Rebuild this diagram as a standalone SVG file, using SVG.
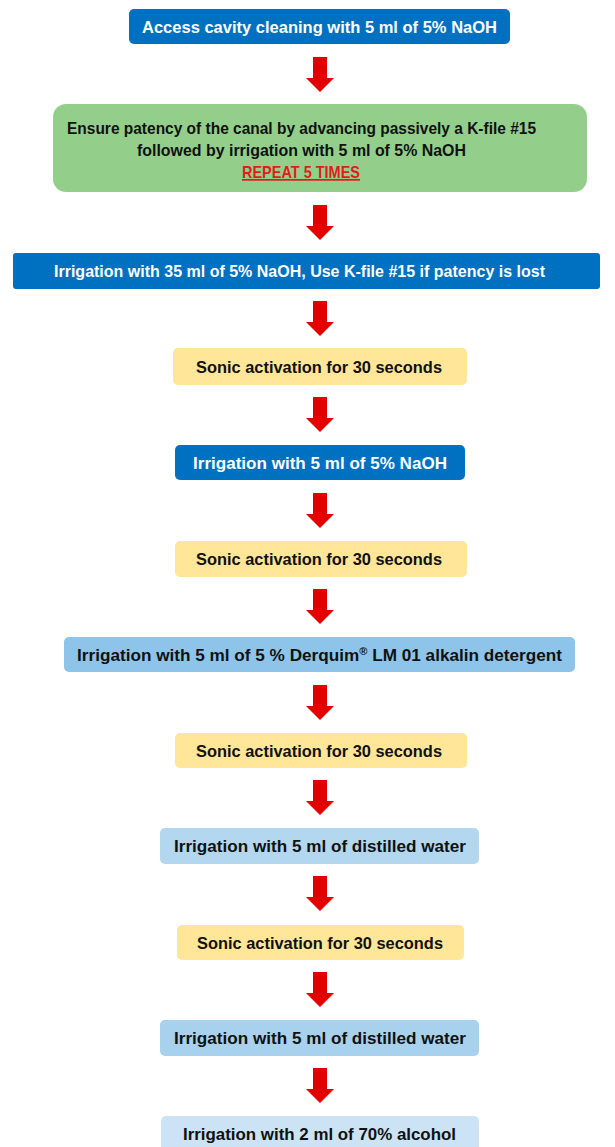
<svg xmlns="http://www.w3.org/2000/svg" width="615" height="1147" viewBox="0 0 615 1147">
<style>
.t{font-family:"Liberation Sans",Arial,sans-serif;font-weight:bold;font-size:17px;text-anchor:middle}
.w{fill:#ffffff}
.k{fill:#111111}
.dk{fill:#0070C0}
.yl{fill:#FFE699}
.arr{fill:#E00000}
</style>
<defs>
<path id="arrow" d="M-7,0 H7 V21 H14 L0,35 L-14,21 H-7 Z"/>
</defs>
<rect width="615" height="1147" fill="#ffffff"/>
<g id="connectors" class="arr">
<use href="#arrow" x="320" y="57"/>
<use href="#arrow" x="320" y="205"/>
<use href="#arrow" x="320" y="301"/>
<use href="#arrow" x="320" y="397"/>
<use href="#arrow" x="320" y="493"/>
<use href="#arrow" x="320" y="589"/>
<use href="#arrow" x="320" y="685"/>
<use href="#arrow" x="320" y="780"/>
<use href="#arrow" x="320" y="876"/>
<use href="#arrow" x="320" y="972"/>
<use href="#arrow" x="320" y="1068"/>
</g>
<g id="n1">
<rect class="dk" x="129" y="9" width="381" height="35" rx="5"/>
<text class="t w" x="319.5" y="33" textLength="355" lengthAdjust="spacingAndGlyphs">Access cavity cleaning with 5 ml of 5% NaOH</text>
</g>
<g id="n2">
<rect x="53" y="104" width="534" height="88" rx="13" fill="#93CF8B"/>
<text class="t k" x="301.5" y="134" textLength="469" lengthAdjust="spacingAndGlyphs">Ensure patency of the canal by advancing passively a K-file #15</text>
<text class="t k" x="301.5" y="156" textLength="329" lengthAdjust="spacingAndGlyphs">followed by irrigation with 5 ml of 5% NaOH</text>
<text class="t" x="301" y="178" fill="#E31B1B" text-decoration="underline" textLength="118" lengthAdjust="spacingAndGlyphs">REPEAT 5 TIMES</text>
</g>
<g id="n3">
<rect class="dk" x="13" y="253" width="587" height="36" rx="3"/>
<text class="t w" x="299.5" y="277" textLength="491" lengthAdjust="spacingAndGlyphs">Irrigation with 35 ml of 5% NaOH, Use K-file #15 if patency is lost</text>
</g>
<g id="n4">
<rect class="yl" x="173" y="348" width="294" height="37" rx="5"/>
<text class="t k" x="319" y="373" textLength="246" lengthAdjust="spacingAndGlyphs">Sonic activation for 30 seconds</text>
</g>
<g id="n5">
<rect class="dk" x="175" y="445" width="290" height="35" rx="5"/>
<text class="t w" x="320" y="469" textLength="254" lengthAdjust="spacingAndGlyphs">Irrigation with 5 ml of 5% NaOH</text>
</g>
<g id="n6">
<rect class="yl" x="175" y="541" width="292" height="36" rx="5"/>
<text class="t k" x="319" y="565" textLength="246" lengthAdjust="spacingAndGlyphs">Sonic activation for 30 seconds</text>
</g>
<g id="n7">
<rect x="64" y="637" width="511" height="35" rx="5" fill="#8EC4E9"/>
<text class="t k" x="319.5" y="661" textLength="485" lengthAdjust="spacingAndGlyphs">Irrigation with 5 ml of 5 % Derquim<tspan font-size="11" dy="-6">®</tspan><tspan dy="6"> LM 01 alkalin detergent</tspan></text>
</g>
<g id="n8">
<rect class="yl" x="175" y="733" width="292" height="35" rx="5"/>
<text class="t k" x="319" y="757" textLength="246" lengthAdjust="spacingAndGlyphs">Sonic activation for 30 seconds</text>
</g>
<g id="n9">
<rect x="160" y="828" width="319" height="36" rx="5" fill="#B2D7EF"/>
<text class="t k" x="320" y="852" textLength="292" lengthAdjust="spacingAndGlyphs">Irrigation with 5 ml of distilled water</text>
</g>
<g id="n10">
<rect class="yl" x="177" y="925" width="287" height="35" rx="5"/>
<text class="t k" x="320" y="949" textLength="246" lengthAdjust="spacingAndGlyphs">Sonic activation for 30 seconds</text>
</g>
<g id="n11">
<rect x="160" y="1020" width="319" height="36" rx="5" fill="#A8D1EE"/>
<text class="t k" x="320" y="1044" textLength="292" lengthAdjust="spacingAndGlyphs">Irrigation with 5 ml of distilled water</text>
</g>
<g id="n12">
<rect x="161" y="1116" width="318" height="40" rx="5" fill="#CBE3F4"/>
<text class="t k" x="319.5" y="1140" textLength="273" lengthAdjust="spacingAndGlyphs">Irrigation with 2 ml of 70% alcohol</text>
</g>
</svg>
